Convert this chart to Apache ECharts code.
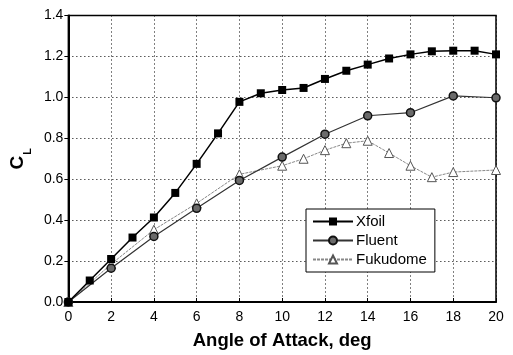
<!DOCTYPE html>
<html><head><meta charset="utf-8">
<script src="https://cdn.jsdelivr.net/npm/echarts@6/dist/echarts.min.js"></script>
<style>html,body{margin:0;padding:0;background:#fff}#c{width:513px;height:355px}</style>
</head><body><div id="c"></div>
<script>
const xfoilX = [0,1,2,3,4,5,6,7,8,9,10,11,12,13,14,15,16,17,18,19,20];
const xfoilY = [0,0.105,0.21,0.315,0.413,0.533,0.675,0.824,0.978,1.02,1.036,1.046,1.09,1.13,1.16,1.19,1.21,1.225,1.228,1.228,1.21];
const fluentX = [0,2,4,6,8,10,12,14,16,18,20];
const fluentY = [0,0.165,0.32,0.458,0.594,0.708,0.82,0.91,0.925,1.007,0.998];
const fukuX = [0,2,4,6,8,10,11,12,13,14,15,16,17,18,20];
const fukuY = [0,0.185,0.353,0.482,0.624,0.666,0.70,0.742,0.776,0.788,0.728,0.666,0.61,0.635,0.645];
const xTicks = [0,2,4,6,8,10,12,14,16,18,20];
const yTicks = ['0.0','0.2','0.4','0.6','0.8','1.0','1.2','1.4'];

const pairs = (xs, ys) => xs.map((x,i)=>[x, ys[i]]);
const font = '"Liberation Sans", Arial, sans-serif';
const chart = echarts.init(document.getElementById('c'), null, {renderer:'canvas'});
chart.setOption({
  animation:false,
  backgroundColor:'#fff',
  grid:{left:66, right:17, top:15.5, bottom:50, show:true, borderColor:'#000', borderWidth:1.5, containLabel:false},
  legend:{
    left:306, top:209, orient:'vertical', itemGap:4, itemWidth:40, itemHeight:10,
    backgroundColor:'#fff', borderColor:'#000', borderWidth:1, padding:[5,8,5,6],
    textStyle:{fontFamily:font, fontSize:15, color:'#000', padding:[0,0,0,-2]},
    data:['Xfoil','Fluent','Fukudome']
  },
  xAxis:{
    type:'value', min:0, max:20, interval:2,
    name:'Angle of Attack, deg', nameLocation:'middle', nameGap:29,
    nameTextStyle:{fontFamily:font, fontSize:18.5, fontWeight:'bold', color:'#000'},
    axisLine:{lineStyle:{color:'#000', width:2}},
    axisTick:{inside:true, length:4, lineStyle:{color:'#000'}},
    axisLabel:{fontFamily:font, fontSize:14, color:'#000', margin:8, formatter:(v)=>xTicks.includes(v)?String(v):''},
    splitLine:{show:true, lineStyle:{color:'#000', type:[1,3], width:1}}
  },
  yAxis:{
    type:'value', min:0, max:1.4, interval:0.2,
    name:'{c|C}{l|L}', nameLocation:'middle', nameGap:38, nameRotate:90,
    nameTextStyle:{rich:{
      c:{fontFamily:font, fontSize:19, fontWeight:'bold', color:'#000', lineHeight:22, verticalAlign:'bottom'},
      l:{fontFamily:font, fontSize:11, fontWeight:'bold', color:'#000', lineHeight:22, verticalAlign:'bottom', padding:[0,0,-6,1]}
    }},
    axisLine:{show:true, lineStyle:{color:'#000', width:2}},
    axisTick:{show:true, inside:false, length:4, lineStyle:{color:'#000'}},
    axisLabel:{fontFamily:font, fontSize:14, color:'#000', margin:5, formatter:(v)=>yTicks[Math.round(v/0.2)]},
    splitLine:{show:true, lineStyle:{color:'#000', type:[1,3], width:1}}
  },
  series:[
    {name:'Xfoil', type:'line', data:pairs(xfoilX,xfoilY), symbol:'rect', symbolSize:8,
     itemStyle:{color:'#000'}, lineStyle:{color:'#000', width:1.5}, z:4},
    {name:'Fluent', type:'line', data:pairs(fluentX,fluentY), symbol:'circle', symbolSize:8,
     itemStyle:{color:'#6a6a6a', borderColor:'#111', borderWidth:1.5}, lineStyle:{color:'#333', width:1.2}, z:3},
    {name:'Fukudome', type:'line', data:pairs(fukuX,fukuY), symbol:'triangle', symbolSize:9,
     itemStyle:{color:'#fff', borderColor:'#555', borderWidth:1}, lineStyle:{color:'#888', width:1, type:[3,1]}, z:2}
  ]
});
</script></body></html>
